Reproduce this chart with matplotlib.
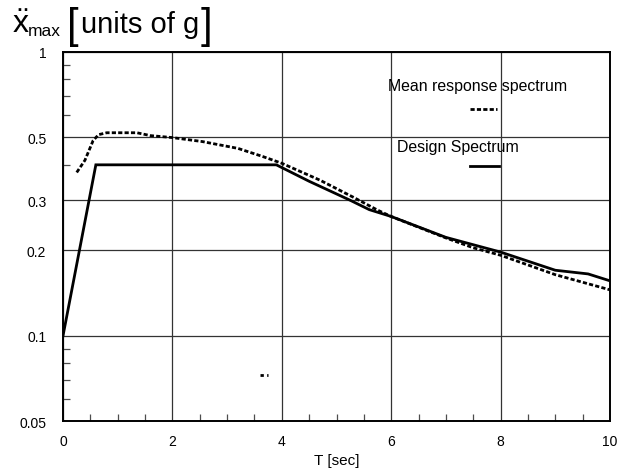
import matplotlib
matplotlib.use("Agg")
import matplotlib.pyplot as plt
from matplotlib.ticker import FixedLocator, NullFormatter

plt.rcParams['font.family'] = ['Liberation Sans', 'DejaVu Sans']
plt.rcParams['mathtext.fontset'] = 'custom'
plt.rcParams['mathtext.rm'] = 'Liberation Sans'
plt.rcParams['mathtext.it'] = 'Liberation Sans'

# Design spectrum (solid)
design_T = [0.0, 0.6, 3.9, 4.5, 5.25, 5.6, 6.0, 7.0, 8.0, 9.0, 9.6, 10.0]
design_a = [0.1, 0.4, 0.4, 0.35, 0.30, 0.278, 0.263, 0.222, 0.197, 0.170, 0.165, 0.156]

# Mean response spectrum (dotted)
mean_T = [0.25, 0.4, 0.55, 0.65, 0.8, 1.35, 1.6, 2.0, 2.55, 3.2, 3.65, 4.0,
          4.7, 5.3, 5.75, 6.0, 7.0, 7.5, 8.0, 9.0, 10.0]
mean_a = [0.376, 0.415, 0.487, 0.511, 0.519, 0.519, 0.507, 0.499, 0.483, 0.457,
          0.428, 0.405, 0.353, 0.308, 0.277, 0.263, 0.221, 0.204, 0.192, 0.164, 0.145]

# small stray dotted fragment in the plot
stray_T = [3.6, 3.74]
stray_a = [0.0724, 0.0724]

x_ticks = [0, 2, 4, 6, 8, 10]
y_ticks = [0.05, 0.1, 0.2, 0.3, 0.5, 1]
y_labels = ['0.05', '0.1', '0.2', '0.3', '0.5', '1']
y_minor = [0.06, 0.07, 0.08, 0.09, 0.4, 0.6, 0.7, 0.8, 0.9]
x_minor = [0.5, 1, 1.5, 2.5, 3, 3.5, 4.5, 5, 5.5, 6.5, 7, 7.5, 8.5, 9, 9.5]

dots = (0, (1.5, 0.8))

fig = plt.figure(figsize=(6.18, 4.77), dpi=100)
ax = fig.add_axes([0.102, 0.1153, 0.885, 0.7737])

ax.plot(design_T, design_a, color='black', lw=2.0, solid_joinstyle='miter')
ax.plot(mean_T, mean_a, color='black', lw=2.0, linestyle=dots)
ax.plot(stray_T, stray_a, color='black', lw=2.0, linestyle=(0, (1.2, 1.2)))

ax.set_yscale('log')
ax.set_xlim(0, 10)
ax.set_ylim(0.05, 1)
ax.set_xticks(x_ticks)
ax.set_yticks(y_ticks)
ax.set_yticklabels(y_labels)
ax.yaxis.set_minor_locator(FixedLocator(y_minor))
ax.yaxis.set_minor_formatter(NullFormatter())
ax.xaxis.set_minor_locator(FixedLocator(x_minor))

ax.grid(True, which='major', color='0.2', lw=0.9)
ax.tick_params(which='major', length=0, labelsize=10, pad=9)
ax.tick_params(axis='y', which='major', pad=12)
ax.tick_params(which='minor', direction='in', length=5, width=0.9, color='0.3')
for s in ax.spines.values():
    s.set_linewidth(1.4)

ax.set_xlabel('T [sec]', fontsize=11, labelpad=4)

# legend-like annotations
ax.text(0.594, 0.897, 'Mean response spectrum', transform=ax.transAxes,
        fontsize=11.4, va='baseline', ha='left')
ax.plot([0.745, 0.794], [0.846, 0.846], transform=ax.transAxes,
        color='black', lw=2.0, linestyle=dots)
ax.text(0.611, 0.732, 'Design Spectrum', transform=ax.transAxes,
        fontsize=11.4, va='baseline', ha='left')
ax.plot([0.744, 0.797], [0.691, 0.691], transform=ax.transAxes,
        color='black', lw=2.0)

# y-axis title at top left
H = 477.0
W = 618.0
fig.text(12 / W, (H - 33) / H, r'$\ddot{\mathrm{x}}$', fontsize=23, va='baseline', ha='left')
fig.text(28 / W, (H - 36) / H, 'max', fontsize=12.5, va='baseline', ha='left')
fig.text(67 / W, (H - 38) / H, '[', fontsize=30, va='baseline', ha='left')
fig.text(81 / W, (H - 33) / H, 'units of g', fontsize=21, va='baseline', ha='left')
fig.text(201 / W, (H - 38) / H, ']', fontsize=30, va='baseline', ha='left')

fig.savefig('out.png', dpi=100)
